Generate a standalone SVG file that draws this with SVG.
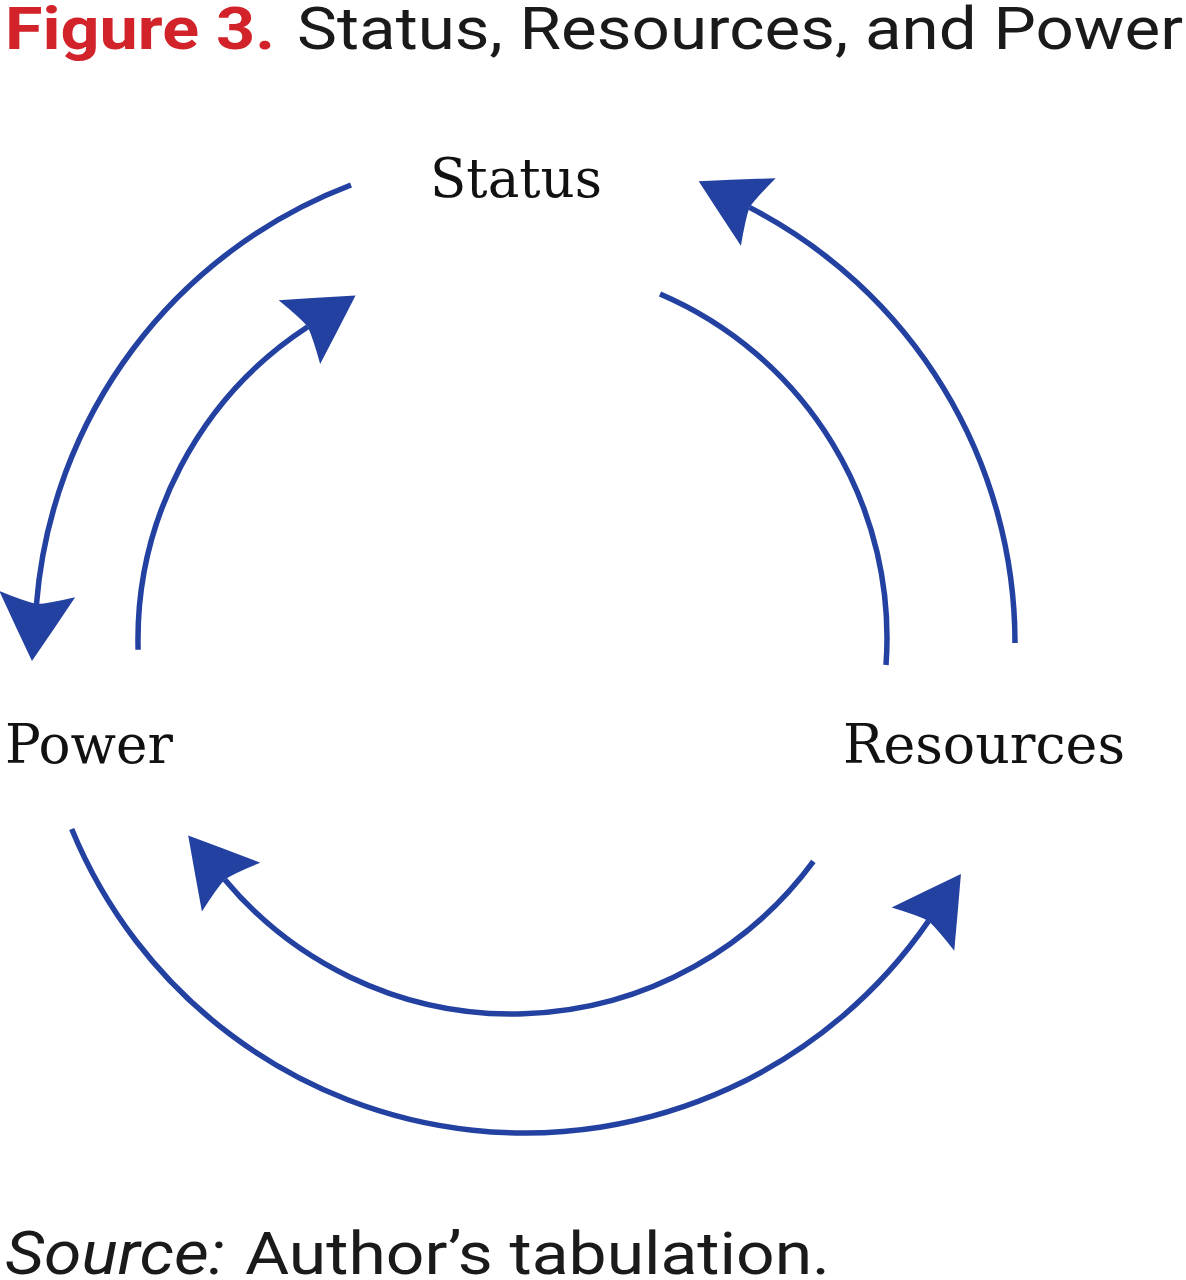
<svg xmlns="http://www.w3.org/2000/svg" width="1186" height="1280" viewBox="0 0 1186 1280">
<style>
.arc{fill:none;stroke:#2341a0;stroke-width:5.5;stroke-linecap:butt}
.lbl{font-family:"DejaVu Serif","Liberation Serif",serif;font-size:55px;fill:#111}
.cap{font-family:Roboto,"Liberation Sans",sans-serif;font-size:60px;fill:#1a1a1a}
</style>
<defs>
<marker id="ah" markerUnits="userSpaceOnUse" orient="auto" refX="0" refY="0" markerWidth="140" markerHeight="140" viewBox="-70 -70 140 140" overflow="visible">
<path d="M57,0 Q24,-19 -10,-38 Q-2,-13 0,0 Q-2,13 -10,38 Q24,19 57,0 Z" fill="#2341a0"/>
</marker>
</defs>
<rect width="1186" height="1280" fill="#ffffff"/>
<g id="title">
<text x="5" y="49" class="cap" style="font-weight:700;fill:#d2232a" textLength="270" lengthAdjust="spacingAndGlyphs">Figure 3.</text>
<text x="297" y="49" class="cap" textLength="886" lengthAdjust="spacingAndGlyphs">Status, Resources, and Power</text>
</g>
<g id="node-status"><text x="430" y="197" class="lbl" textLength="172" lengthAdjust="spacingAndGlyphs">Status</text></g>
<g id="node-power"><text x="5" y="763" class="lbl" textLength="168" lengthAdjust="spacingAndGlyphs">Power</text></g>
<g id="node-resources"><text x="843" y="763" class="lbl" textLength="282" lengthAdjust="spacingAndGlyphs">Resources</text></g>
<g id="connectors">
<path class="arc" d="M351,185 A490,490 0 0 0 36.5,604.1" marker-end="url(#ah)"/>
<path class="arc" d="M1015,643 A490,490 0 0 0 749.4,207.4" marker-end="url(#ah)"/>
<path class="arc" d="M71.7,829 A490,490 0 0 0 928.6,920.9" marker-end="url(#ah)"/>
<path class="arc" d="M138.1,649.8 A374,374 0 0 1 307.8,326.7" marker-end="url(#ah)"/>
<path class="arc" d="M660,294 A374,374 0 0 1 886,665"/>
<path class="arc" d="M813.4,861.4 A374,374 0 0 1 224.7,879.4" marker-end="url(#ah)"/>
</g>
<g id="source">
<text x="5" y="1274" class="cap" style="font-style:italic" textLength="220" lengthAdjust="spacingAndGlyphs">Source:</text>
<text x="245" y="1274" class="cap" textLength="585" lengthAdjust="spacingAndGlyphs">Author’s tabulation.</text>
</g>
</svg>
